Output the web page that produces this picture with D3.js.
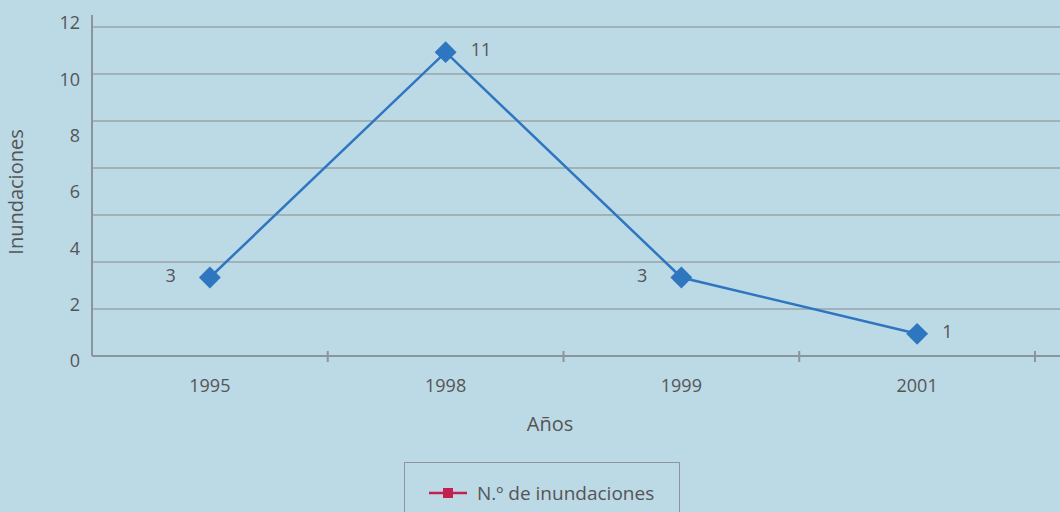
<!DOCTYPE html>
<html>
<head>
<meta charset="utf-8">
<script src="https://cdn.jsdelivr.net/npm/d3@7"></script>
<style>
  html, body { margin: 0; padding: 0; background: #bcd9e6; }
  svg { display: block; font-family: "Open Sans", "Noto Sans", sans-serif; }
</style>
</head>
<body>
<div id="chart"></div>
<script>
const years = ['1995', '1998', '1999', '2001'];
const floods = [3, 11, 3, 1];
const yTicks = [0, 2, 4, 6, 8, 10, 12];
const labelSide = ['left', 'right', 'left', 'right'];
const seriesName = 'N.º de inundaciones';

const width = 1060;
const height = 512;
const plot = { left: 92, right: 1035, top: 27, bottom: 356 };

const svg = d3.select('#chart')
  .append('svg')
  .attr('width', width)
  .attr('height', height)
  .style('background-color', '#bcd9e6');

const xScale = d3.scaleBand()
  .domain(years)
  .range([plot.left, plot.right]);

// value scale (labels + marks), slightly offset from the plot frame like the original
const yScale = d3.scaleLinear()
  .domain([0, 12])
  .range([362, 24]);

// gridlines split the plot frame in 7 equal bands (as in the original)
const gridScale = d3.scaleLinear().domain([0, 7]).range([plot.bottom, plot.top]);
svg.append('g')
  .selectAll('line')
  .data(d3.range(1, 8))
  .enter()
  .append('line')
  .attr('x1', plot.left)
  .attr('x2', width)
  .attr('y1', (d) => gridScale(d))
  .attr('y2', (d) => gridScale(d))
  .attr('stroke', '#97a3a8')
  .attr('stroke-width', 1.5);

// y tick labels
svg.append('g')
  .selectAll('text')
  .data(yTicks)
  .enter()
  .append('text')
  .attr('x', 80)
  .attr('y', (d) => yScale(d) - 1)
  .attr('dy', '0.35em')
  .attr('text-anchor', 'end')
  .attr('font-size', 18)
  .attr('fill', '#555')
  .text((d) => d);

// axes lines
svg.append('line')
  .attr('x1', plot.left)
  .attr('x2', plot.left)
  .attr('y1', 15)
  .attr('y2', plot.bottom)
  .attr('stroke', '#8c9599')
  .attr('stroke-width', 2);

svg.append('line')
  .attr('x1', plot.left)
  .attr('x2', width)
  .attr('y1', plot.bottom)
  .attr('y2', plot.bottom)
  .attr('stroke', '#8c9599')
  .attr('stroke-width', 2);

// x ticks at band boundaries
svg.append('g')
  .selectAll('line')
  .data(years)
  .enter()
  .append('line')
  .attr('x1', (d) => xScale(d) + xScale.bandwidth())
  .attr('x2', (d) => xScale(d) + xScale.bandwidth())
  .attr('y1', plot.bottom - 5)
  .attr('y2', plot.bottom + 6)
  .attr('stroke', '#8c9599')
  .attr('stroke-width', 2);

svg.append('g')
  .selectAll('text')
  .data(years)
  .enter()
  .append('text')
  .attr('x', (d) => xScale(d) + xScale.bandwidth() / 2)
  .attr('y', 392)
  .attr('text-anchor', 'middle')
  .attr('font-size', 18)
  .attr('fill', '#555')
  .text((d) => d);

// axis titles
svg.append('text')
  .attr('x', 550)
  .attr('y', 431)
  .attr('text-anchor', 'middle')
  .attr('font-size', 20)
  .attr('fill', '#555')
  .text('Años');

svg.append('text')
  .attr('transform', 'translate(23,192) rotate(-90)')
  .attr('text-anchor', 'middle')
  .attr('font-size', 20)
  .attr('fill', '#555')
  .text('Inundaciones');

// line + markers
const cx = (i) => xScale(years[i]) + xScale.bandwidth() / 2;
const line = d3.line()
  .x((d, i) => cx(i))
  .y((d) => yScale(d));

svg.append('path')
  .attr('d', line(floods))
  .attr('fill', 'none')
  .attr('stroke', '#2f76c0')
  .attr('stroke-width', 2.5);

svg.append('g')
  .selectAll('path')
  .data(floods)
  .enter()
  .append('path')
  .attr('d', d3.symbol().type(d3.symbolSquare).size(240))
  .attr('transform', (d, i) => `translate(${cx(i)},${yScale(d)}) rotate(45)`)
  .attr('fill', '#2f76c0');

svg.append('g')
  .selectAll('text')
  .data(floods)
  .enter()
  .append('text')
  .attr('x', (d, i) => cx(i) + (labelSide[i] === 'left' ? -34 : 25))
  .attr('y', (d) => yScale(d) - 2)
  .attr('dy', '0.35em')
  .attr('text-anchor', (d, i) => (labelSide[i] === 'left' ? 'end' : 'start'))
  .attr('font-size', 18)
  .attr('fill', '#555')
  .text((d) => d);

// legend
const legend = svg.append('g');
legend.append('rect')
  .attr('x', 404.5)
  .attr('y', 462.5)
  .attr('width', 275)
  .attr('height', 60)
  .attr('fill', 'none')
  .attr('stroke', '#8c9599')
  .attr('stroke-width', 1);
legend.append('line')
  .attr('x1', 429)
  .attr('x2', 467)
  .attr('y1', 493)
  .attr('y2', 493)
  .attr('stroke', '#c42153')
  .attr('stroke-width', 2.5);
legend.append('rect')
  .attr('x', 443)
  .attr('y', 488)
  .attr('width', 10)
  .attr('height', 10)
  .attr('fill', '#c42153');
legend.append('text')
  .attr('x', 477)
  .attr('y', 493)
  .attr('dy', '0.35em')
  .attr('font-size', 19)
  .attr('fill', '#555')
  .text(seriesName);
</script>
</body>
</html>
